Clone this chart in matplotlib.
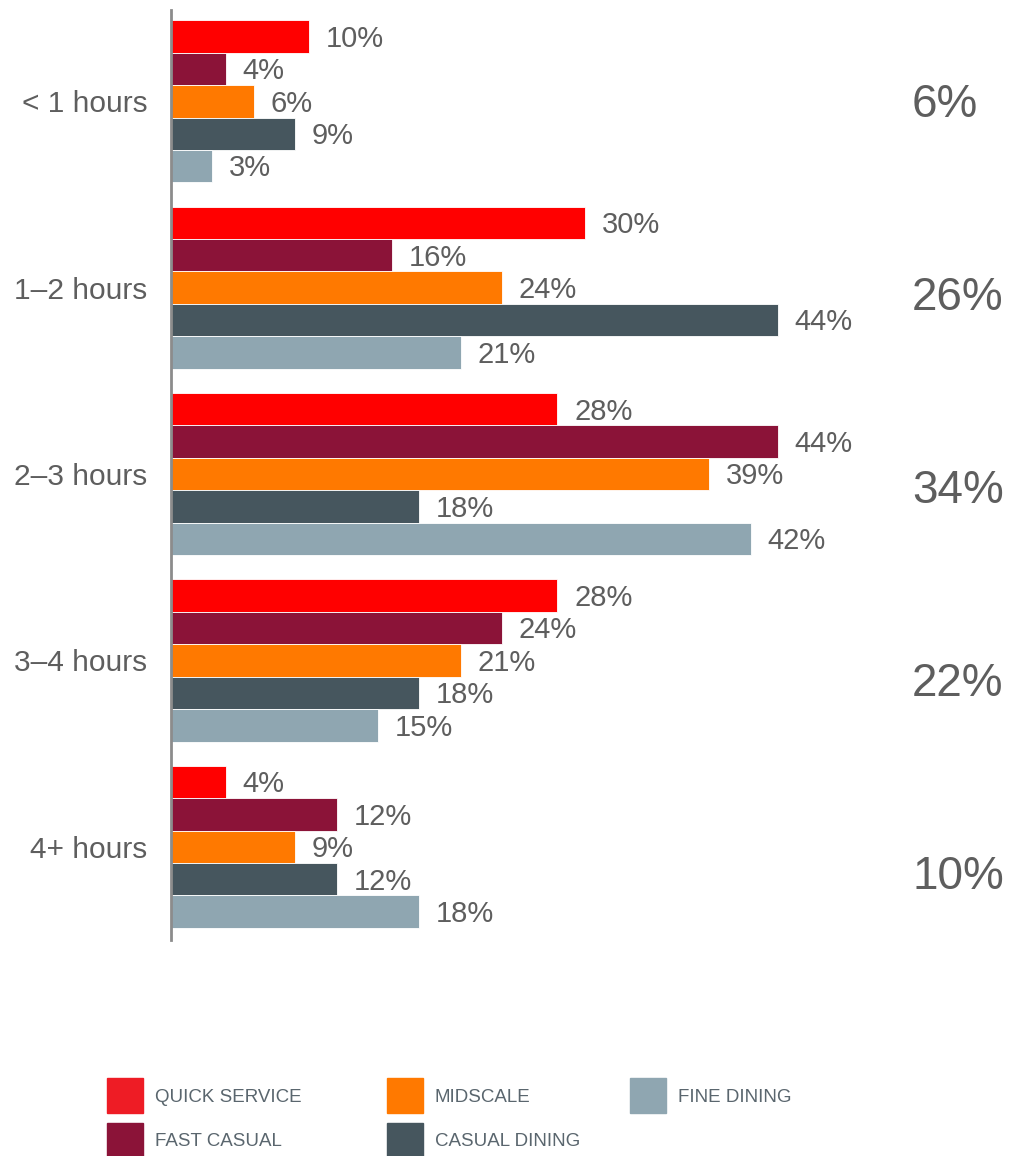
import matplotlib.pyplot as plt
import numpy as np
from matplotlib.patches import Rectangle

plt.rcParams['font.family'] = ['Liberation Sans', 'DejaVu Sans']

categories = ['< 1 hours', '1\u20132 hours', '2\u20133 hours', '3\u20134 hours', '4+ hours']
segments = ['QUICK SERVICE', 'FAST CASUAL', 'MIDSCALE', 'CASUAL DINING', 'FINE DINING']
quick_service = [10, 30, 28, 28, 4]
fast_casual = [4, 16, 44, 24, 12]
midscale = [6, 24, 39, 21, 9]
casual_dining = [9, 44, 18, 18, 12]
fine_dining = [3, 21, 42, 15, 18]
totals = ['6%', '26%', '34%', '22%', '10%']

series = [quick_service, fast_casual, midscale, casual_dining, fine_dining]
colors = ['#FF0000', '#8B1338', '#FF7900', '#46565E', '#8FA6B1']
legend_colors = ['#EE1C25', '#8B1338', '#FF7900', '#46565E', '#8FA6B1']
txt = '#5E5E5E'

W, H = 1019, 1156
fig = plt.figure(figsize=(W / 100, H / 100), dpi=100)
ax = fig.add_axes([171 / W, (H - 940) / H, 690 / W, 930 / H])

y = np.arange(len(categories))
h = 0.174
for i, (vals, c) in enumerate(zip(series, colors)):
    pos = y + (i - 2) * h
    ax.barh(pos, vals, height=h, color=c, edgecolor='white', linewidth=0.6)
    for p, v in zip(pos, vals):
        ax.annotate(f'{v}%', (v, p), xytext=(12, 0.5), textcoords='offset points',
                    ha='left', va='center_baseline', fontsize=21, color=txt)

ax.set_xlim(0, 50)
ax.set_ylim(4.5, -0.49)
ax.set_yticks(y)
ax.set_yticklabels(categories, fontsize=21.5, color=txt, va='center_baseline')
ax.tick_params(axis='y', length=0, pad=17)
ax.set_xticks([])
for s in ['top', 'right', 'bottom']:
    ax.spines[s].set_visible(False)
ax.spines['left'].set_color('#8C8C8C')
ax.spines['left'].set_linewidth(2)

# totals column on the right
for i, t in enumerate(totals):
    fig.text(912 / W, (H - (100 + i * 193)) / H, t, ha='left', va='center_baseline',
             fontsize=33, color=txt)

# legend
leg_cols = [107, 387, 630, 107, 387]
leg_rows = [1078, 1078, 1078, 1123, 1123]
order = [0, 2, 4, 1, 3]
for k, idx in enumerate(order):
    x0, y0 = leg_cols[k], leg_rows[k]
    fig.patches.append(Rectangle((x0 / W, (H - y0 - 35) / H), 36 / W, 35 / H,
                                 transform=fig.transFigure, color=legend_colors[idx]))
    fig.text((x0 + 48) / W, (H - y0 - 19) / H, segments[idx], ha='left', va='center',
             fontsize=13.5, color='#5A666E')

fig.savefig('out.png', dpi=100)
